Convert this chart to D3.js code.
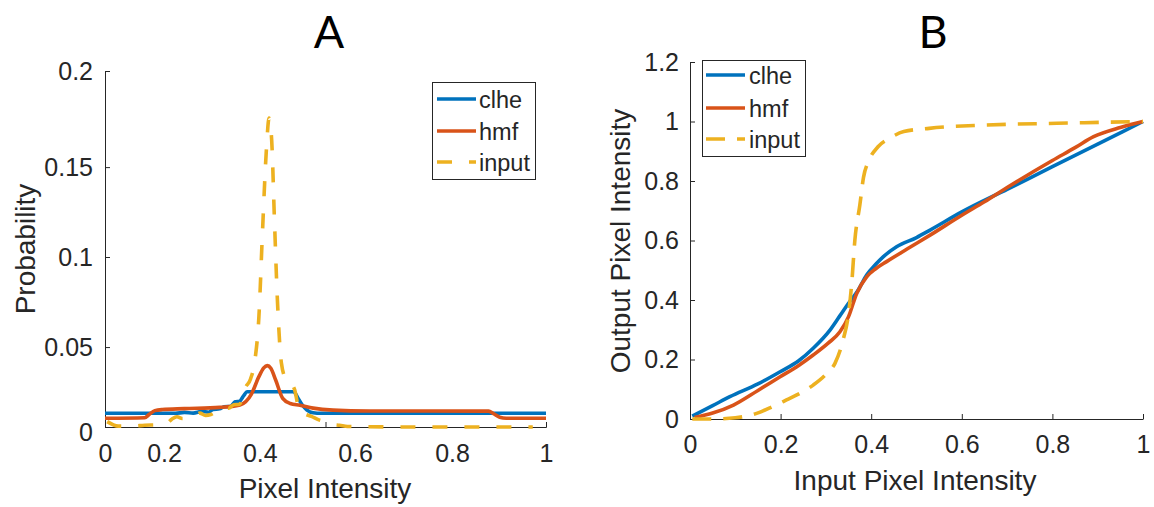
<!DOCTYPE html>
<html><head><meta charset="utf-8">
<script src="https://cdn.jsdelivr.net/npm/d3@7"></script>
<style>
body{margin:0;background:#fff}
text{font-family:"Liberation Sans",Arial,sans-serif;fill:#262626}
</style>
</head><body><svg id="c" width="1154" height="507"></svg>
<script>
// ---------- data ----------
const seriesNames = ["clhe", "hmf", "input"];
const seriesColors = ["#0072BD", "#D95319", "#EDB120"];

// Panel A: histograms
const histX_clhe = [0, 0.16, 0.18, 0.2, 0.22, 0.235, 0.245, 0.26, 0.27, 0.285, 0.295, 0.305, 0.315, 0.322, 0.428, 0.437, 0.447, 0.458, 0.472, 0.49, 1];
const histY_clhe = [0.0077, 0.0077, 0.0082, 0.0078, 0.0088, 0.0083, 0.0099, 0.0102, 0.0114, 0.0116, 0.0142, 0.0145, 0.0178, 0.0198, 0.0198, 0.0165, 0.0125, 0.0095, 0.008, 0.0077, 0.0077];
const histX_hmf = [0, 0.09, 0.1, 0.113, 0.13, 0.18, 0.26, 0.306, 0.332, 0.349, 0.36, 0.368, 0.376, 0.387, 0.403, 0.42, 0.442, 0.472, 0.517, 0.6, 0.87, 0.88, 0.895, 0.91, 1];
const histY_hmf = [0.0049, 0.0052, 0.007, 0.0092, 0.0098, 0.0103, 0.011, 0.0124, 0.0185, 0.0283, 0.0332, 0.0345, 0.033, 0.0264, 0.0161, 0.0132, 0.0122, 0.0106, 0.0095, 0.009, 0.0089, 0.0077, 0.0055, 0.0049, 0.0049];
const histX_input = [0.005, 0.03, 0.06, 0.09, 0.12, 0.14, 0.152, 0.163, 0.175, 0.19, 0.205, 0.215, 0.228, 0.24, 0.255, 0.27, 0.28, 0.292, 0.305, 0.318, 0.33, 0.34, 0.349, 0.357, 0.366, 0.372, 0.378, 0.384, 0.391, 0.4, 0.41, 0.42, 0.43, 0.44, 0.452, 0.468, 0.485, 0.5, 0.515, 0.532, 0.55, 0.7, 0.97];
const histY_input = [0.003, 0.0005, 0.0005, 0.001, 0.0012, 0.002, 0.0045, 0.0058, 0.0048, 0.005, 0.0065, 0.0078, 0.0065, 0.007, 0.009, 0.011, 0.0105, 0.0125, 0.0128, 0.022, 0.027, 0.0376, 0.062, 0.109, 0.156, 0.1735, 0.161, 0.118, 0.071, 0.036, 0.027, 0.025, 0.021, 0.01, 0.0075, 0.006, 0.004, 0.003, 0.0015, 0.001, 0.0003, 0, 0];

// Panel B: transfer curves
const mapX_clhe = [0.005, 0.05, 0.088, 0.15, 0.199, 0.24, 0.272, 0.309, 0.33, 0.35, 0.37, 0.39, 0.41, 0.427, 0.456, 0.5, 0.53, 0.6, 0.7, 0.8, 0.9, 1];
const mapY_clhe = [0.01, 0.045, 0.075, 0.118, 0.159, 0.196, 0.238, 0.299, 0.345, 0.389, 0.43, 0.484, 0.52, 0.546, 0.579, 0.61, 0.635, 0.696, 0.772, 0.848, 0.924, 1.0];
const mapX_hmf = [0.01, 0.05, 0.096, 0.15, 0.199, 0.24, 0.272, 0.305, 0.331, 0.35, 0.368, 0.39, 0.41, 0.434, 0.48, 0.53, 0.6, 0.65, 0.7, 0.8, 0.85, 0.891, 0.95, 1];
const mapY_hmf = [0.005, 0.02, 0.047, 0.096, 0.142, 0.18, 0.215, 0.255, 0.293, 0.344, 0.422, 0.478, 0.505, 0.529, 0.572, 0.618, 0.685, 0.73, 0.778, 0.869, 0.912, 0.949, 0.98, 1.0];
const mapX_input = [0.005, 0.05, 0.1, 0.147, 0.18, 0.213, 0.245, 0.272, 0.3, 0.32, 0.338, 0.35, 0.357, 0.364, 0.375, 0.383, 0.395, 0.415, 0.44, 0.472, 0.528, 0.65, 0.81, 1];
const mapY_input = [0, 0, 0.004, 0.019, 0.04, 0.064, 0.088, 0.114, 0.15, 0.187, 0.266, 0.355, 0.456, 0.602, 0.72, 0.812, 0.869, 0.915, 0.943, 0.966, 0.977, 0.988, 0.994, 1.0];

// tick labels
const xTickPosA = [0, 0.134, 0.351, 0.567, 0.787, 1];
const xTickLabA = ["0", "0.2", "0.4", "0.6", "0.8", "1"];
const xTickMarkA = [0.5, 1];
const yTickPosA = [0, 0.0449, 0.0955, 0.146, 0.2];
const yTickLabA = ["0", "0.05", "0.1", "0.15", "0.2"];
const xTicksB = [0, 0.2, 0.4, 0.6, 0.8, 1];
const yTicksB = [0, 0.2, 0.4, 0.6, 0.8, 1, 1.2];

// ---------- drawing ----------
const svg = d3.select("#c");
const axisColor = "#262626";

function styleAxis(g, fs) {
  g.attr("font-family", "Liberation Sans, Arial, sans-serif").attr("font-size", fs);
  g.selectAll("path.domain").attr("stroke", axisColor).attr("stroke-width", 1);
  g.selectAll(".tick line").attr("stroke", axisColor).attr("stroke-width", 1);
  g.selectAll(".tick text").attr("fill", axisColor);
}

function drawLines(x, y, xs, ys, dashes) {
  const line = d3.line().x(d => x(d[0])).y(d => y(d[1])).curve(d3.curveMonotoneX);
  xs.forEach((arr, i) => {
    const pts = arr.map((v, j) => [v, ys[i][j]]);
    svg.append("path").attr("d", line(pts)).attr("fill", "none")
      .attr("stroke", seriesColors[i]).attr("stroke-width", 3.6)
      .attr("stroke-linejoin", "round")
      .attr("stroke-dasharray", i === 2 ? dashes : null);
  });
}

function legend(x0, y0, w, h, rows, lineX0, lineX1, textX, dashes) {
  svg.append("rect").attr("x", x0 + 0.5).attr("y", y0 + 0.5).attr("width", w).attr("height", h)
    .attr("fill", "#fff").attr("stroke", axisColor).attr("stroke-width", 1);
  seriesNames.forEach((n, i) => {
    svg.append("line").attr("x1", lineX0).attr("x2", lineX1).attr("y1", rows[i]).attr("y2", rows[i])
      .attr("stroke", seriesColors[i]).attr("stroke-width", 3.6)
      .attr("stroke-dasharray", i === 2 ? dashes : null);
    svg.append("text").attr("x", textX).attr("y", rows[i] + 8.5).attr("font-size", 23.5).text(n);
  });
}

function title(x, t) {
  svg.append("text").attr("x", x).attr("y", 48).attr("text-anchor", "middle")
    .style("font-family", "Lato, 'Open Sans', sans-serif").attr("font-size", 45)
    .style("fill", "#000").text(t);
}

// ----- Panel A -----
const xA = d3.scaleLinear().domain([0, 1]).range([105, 546]);
const yA = d3.scaleLinear().domain([0, 0.2]).range([427, 71]);

const gxA = svg.append("g").attr("transform", "translate(0,427)")
  .call(d3.axisBottom(xA).tickValues(xTickPosA).tickFormat((d, i) => xTickLabA[i]).tickSize(0).tickPadding(17));
styleAxis(gxA, 25);
const gxA2 = svg.append("g").attr("transform", "translate(0,427)")
  .call(d3.axisBottom(xA).tickValues(xTickMarkA).tickFormat("").tickSizeInner(-5).tickSizeOuter(0));
styleAxis(gxA2, 25);
const gyA = svg.append("g").attr("transform", "translate(105,0)")
  .call(d3.axisLeft(yA).tickValues(yTickPosA).tickFormat((d, i) => yTickLabA[i]).tickSizeInner(-5).tickSizeOuter(0).tickPadding(12));
styleAxis(gyA, 25);
gyA.selectAll(".tick").filter(d => d === 0).select("text").attr("dy", "0.55em");

drawLines(xA, yA, [histX_clhe, histX_hmf, histX_input], [histY_clhe, histY_hmf, histY_input], "15,17");

title(329, "A");
svg.append("text").attr("x", 325).attr("y", 498).attr("text-anchor", "middle").attr("font-size", 28).text("Pixel Intensity");
svg.append("text").attr("transform", "translate(35,249) rotate(-90)").attr("text-anchor", "middle").attr("font-size", 28).text("Probability");

legend(432, 82, 103, 97, [99, 131, 162], 437, 476, 479, "15,17");

// ----- Panel B -----
const xB = d3.scaleLinear().domain([0, 1]).range([690, 1143]);
const yB = d3.scaleLinear().domain([0, 1.2]).range([419, 62]);

const gxB = svg.append("g").attr("transform", "translate(0,419)")
  .call(d3.axisBottom(xB).tickValues(xTicksB).tickFormat(d3.format("~g")).tickSizeInner(-5).tickSizeOuter(0).tickPadding(16));
styleAxis(gxB, 25);
const gyB = svg.append("g").attr("transform", "translate(690,0)")
  .call(d3.axisLeft(yB).tickValues(yTicksB).tickFormat(d3.format("~g")).tickSizeInner(-5).tickSizeOuter(0).tickPadding(11));
styleAxis(gyB, 25);

drawLines(xB, yB, [mapX_clhe, mapX_hmf, mapX_input], [mapY_clhe, mapY_hmf, mapY_input], "19,12");

title(933, "B");
svg.append("text").attr("x", 915).attr("y", 490).attr("text-anchor", "middle").attr("font-size", 28).text("Input Pixel Intensity");
svg.append("text").attr("transform", "translate(630,241) rotate(-90)").attr("text-anchor", "middle").attr("font-size", 28).text("Output Pixel Intensity");

legend(702, 60, 103, 96, [75, 108, 139], 706, 745, 749, "19,12");
</script>
</body></html>
